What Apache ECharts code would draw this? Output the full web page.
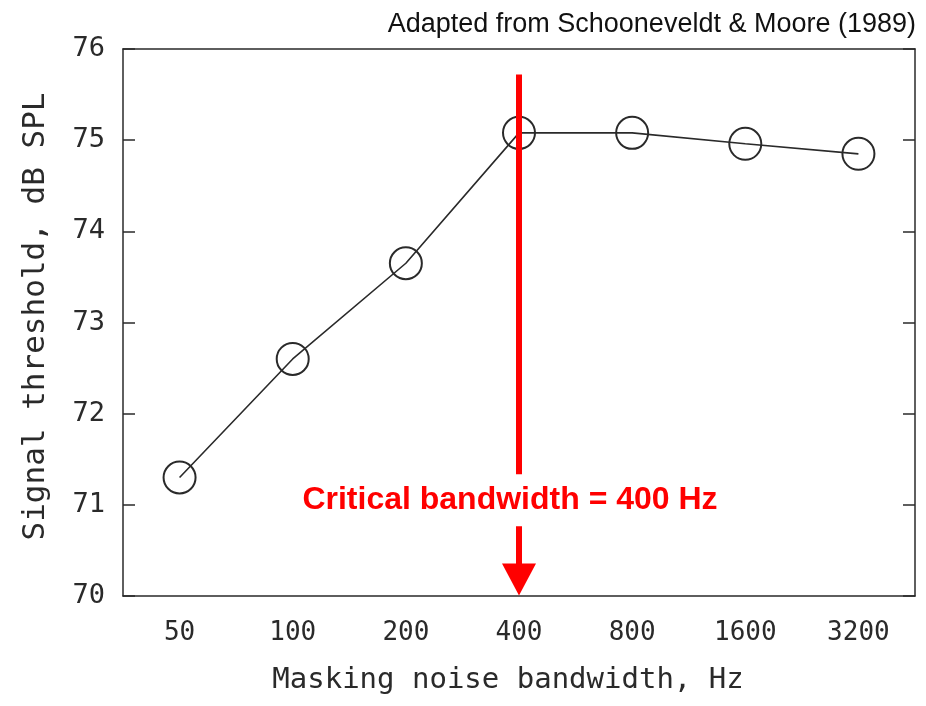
<!DOCTYPE html>
<html lang="en">
<head>
    <meta charset="UTF-8">
    <title>Signal threshold vs masking noise bandwidth</title>
    <script src="https://cdn.jsdelivr.net/npm/echarts@6/dist/echarts.min.js"></script>
    <style>
        body { margin: 0; background: #fff; }
    </style>
</head>
<body>
    <div id="main" style="width:926px; height:706px;"></div>
    <script>
        // data
        var bandwidths = ['50', '100', '200', '400', '800', '1600', '3200'];
        var thresholds = [71.3, 72.6, 73.65, 75.08, 75.08, 74.96, 74.85];
        var yTicks = [70, 71, 72, 73, 74, 75, 76];
        var criticalBand = '400';
        var arrowTop = 75.72;
        var noteText = 'Critical bandwidth = 400 Hz';
        var noteLevel = 71.05;

        var mono = 'DejaVu Sans Mono';
        var ink = '#2a2a2a';

        var chart = echarts.init(document.getElementById('main'));

        var option = {
            animation: false,
            backgroundColor: '#fff',
            title: {
                text: 'Adapted from Schooneveldt & Moore (1989)',
                right: 5,
                top: 6,
                textStyle: {
                    fontFamily: 'Liberation Sans',
                    fontWeight: 'normal',
                    fontSize: 27,
                    color: '#111'
                }
            },
            grid: { left: 123, right: 11, top: 49, bottom: 110 },
            xAxis: [
                {
                    type: 'category',
                    data: bandwidths,
                    name: 'Masking noise bandwidth, Hz',
                    nameLocation: 'middle',
                    nameGap: 70,
                    nameTextStyle: { fontFamily: mono, fontSize: 29, color: ink, padding: [0, 22, 0, 0] },
                    axisLine: { lineStyle: { color: ink, width: 1.5 } },
                    axisTick: {
                        inside: true, length: 12, alignWithLabel: true,
                        interval: function (i) { return i < 6; },
                        lineStyle: { color: ink, width: 1.5 }
                    },
                    axisLabel: { margin: 24, fontFamily: mono, fontSize: 26, color: ink },
                    splitLine: { show: false }
                },
                {
                    type: 'category',
                    data: bandwidths,
                    position: 'top',
                    axisLine: { lineStyle: { color: ink, width: 1.5 } },
                    axisTick: {
                        inside: true, length: 12, alignWithLabel: true,
                        interval: function (i) { return i < 6; },
                        lineStyle: { color: ink, width: 1.5 }
                    },
                    axisLabel: { show: false }
                }
            ],
            yAxis: [
                {
                    type: 'value',
                    min: yTicks[0],
                    max: yTicks[yTicks.length - 1],
                    interval: 1,
                    name: 'Signal threshold, dB SPL',
                    nameLocation: 'middle',
                    nameGap: 72,
                    nameTextStyle: { fontFamily: mono, fontSize: 31, color: ink, padding: [0, 0, 0, 12] },
                    axisLine: { show: true, lineStyle: { color: ink, width: 1.5 } },
                    axisTick: { show: true, inside: true, length: 12, lineStyle: { color: ink, width: 1.5 } },
                    axisLabel: { margin: 18, fontFamily: mono, fontSize: 27, color: ink },
                    splitLine: { show: false }
                },
                {
                    type: 'value',
                    position: 'right',
                    min: yTicks[0],
                    max: yTicks[yTicks.length - 1],
                    interval: 1,
                    axisLine: { show: true, lineStyle: { color: ink, width: 1.5 } },
                    axisTick: { show: true, inside: true, length: 12, lineStyle: { color: ink, width: 1.5 } },
                    axisLabel: { show: false },
                    splitLine: { show: false }
                }
            ],
            series: [
                {
                    type: 'line',
                    data: thresholds,
                    symbol: 'circle',
                    symbolSize: 32,
                    lineStyle: { color: ink, width: 1.6 },
                    itemStyle: { color: 'rgba(0,0,0,0)', borderColor: ink, borderWidth: 2 },
                    emphasis: { disabled: true },
                    markLine: {
                        silent: true,
                        symbol: ['none', 'triangle'],
                        symbolSize: [34, 32],
                        label: { show: false },
                        lineStyle: { color: '#ff0000', width: 6, type: 'solid' },
                        data: [[
                            { coord: [criticalBand, arrowTop] },
                            { coord: [criticalBand, yTicks[0] + 0.18] }
                        ]]
                    },
                    markPoint: {
                        silent: true,
                        symbol: 'circle',
                        symbolSize: 0,
                        data: [{ coord: [criticalBand, noteLevel] }],
                        label: {
                            show: true,
                            formatter: noteText,
                            offset: [-9, 0],
                            fontFamily: 'Liberation Sans',
                            fontWeight: 'bold',
                            fontSize: 32,
                            color: '#ff0000',
                            backgroundColor: '#fff',
                            padding: [10, 20]
                        }
                    }
                }
            ]
        };
        chart.setOption(option);
    </script>
</body>
</html>
